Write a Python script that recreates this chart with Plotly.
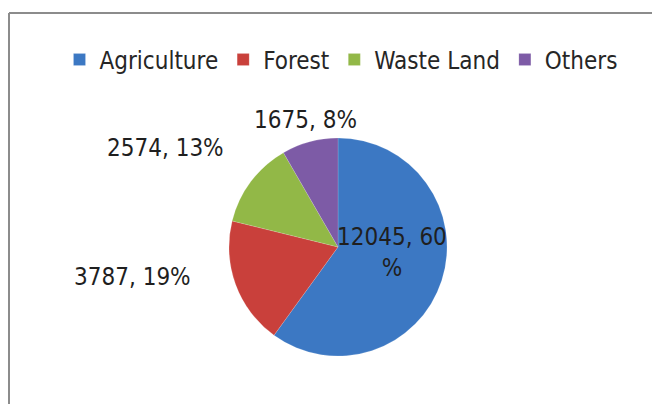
import plotly.graph_objects as go

categories = ["Agriculture", "Forest", "Waste Land", "Others"]
values = [12045, 3787, 2574, 1675]
percents = [60, 19, 13, 8]
colors = ["#3C78C3", "#C9403B", "#92B847", "#7D5BA6"]

W, H = 652, 404
cx, cy, r = 338, 247, 109
FONT = "DejaVu Sans Condensed, Liberation Sans Narrow, Noto Sans"

fig = go.Figure()
fig.add_trace(go.Pie(
    labels=categories,
    values=values,
    sort=False,
    direction="clockwise",
    rotation=0,
    marker=dict(colors=colors, line=dict(color="rgba(255,255,255,0.3)", width=0.5)),
    textinfo="none",
    domain=dict(x=[(cx - r) / W, (cx + r) / W], y=[(H - cy - r) / H, (H - cy + r) / H]),
    showlegend=True,
    hoverinfo="label+value+percent",
))

# data labels (text built from the data arrays)
label_pos = [(392, 252), (132, 277), (166, 148), (305, 120)]
annotations = []
for i, (v, p) in enumerate(zip(values, percents)):
    txt = f"{v}, {p}" + ("<br>%" if i == 0 else "%")
    x, y = label_pos[i]
    annotations.append(dict(
        x=x / W, y=(H - y) / H, xref="paper", yref="paper",
        text=txt, showarrow=False, xanchor="center", yanchor="middle",
        font=dict(size=24, color="#1f1f1f", family=FONT), align="center",
    ))

fig.update_layout(
    width=W, height=H,
    margin=dict(l=0, r=0, t=0, b=0),
    paper_bgcolor="white",
    plot_bgcolor="white",
    font=dict(family=FONT, size=24, color="#262626"),
    legend=dict(
        orientation="h",
        x=0.523, xanchor="center",
        y=(H - 60) / H, yanchor="middle",
        font=dict(size=24, color="#262626", family=FONT),
        itemwidth=30,
        bgcolor="rgba(0,0,0,0)",
    ),
    annotations=annotations,
    shapes=[
        dict(type="line", xref="paper", yref="paper",
             x0=9 / W, x1=1.01, y0=(H - 13) / H, y1=(H - 13) / H,
             line=dict(color="#8c8c8c", width=2)),
        dict(type="line", xref="paper", yref="paper",
             x0=9 / W, x1=9 / W, y0=-0.01, y1=(H - 13) / H,
             line=dict(color="#8c8c8c", width=2)),
    ],
)

fig.write_html("out.html", config={"displayModeBar": False},
               post_script="document.body.style.margin='0px';")
